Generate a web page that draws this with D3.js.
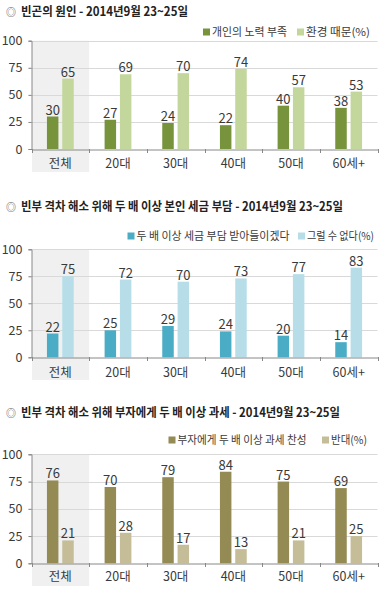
<!DOCTYPE html>
<html><head><meta charset="utf-8">
<script src="https://cdn.jsdelivr.net/npm/d3@7"></script>
<style>
html,body{margin:0;padding:0;background:#fff;}
svg{display:block;font-family:"Noto Sans CJK KR","Noto Sans",sans-serif;}
</style></head>
<body>
<svg id="c" width="385" height="591"></svg>
<script>
// ---------- data ----------
const categories = ["전체", "20대", "30대", "40대", "50대", "60세+"];
const yTicks = [0, 25, 50, 75, 100];

const title1 = "빈곤의 원인 - 2014년9월 23~25일";
const series1Names = ["개인의 노력 부족", "환경 때문(%)"];
const series1A = [30, 27, 24, 22, 40, 38];
const series1B = [65, 69, 70, 74, 57, 53];

const title2 = "빈부 격차 해소 위해 두 배 이상 본인 세금 부담 - 2014년9월 23~25일";
const series2Names = ["두 배 이상 세금 부담 받아들이겠다", "그럴 수 없다(%)"];
const series2A = [22, 25, 29, 24, 20, 14];
const series2B = [75, 72, 70, 73, 77, 83];

const title3 = "빈부 격차 해소 위해 부자에게 두 배 이상 과세 - 2014년9월 23~25일";
const series3Names = ["부자에게 두 배 이상 과세 찬성", "반대(%)"];
const series3A = [76, 70, 79, 84, 75, 69];
const series3B = [21, 28, 17, 13, 21, 25];

// ---------- layout ----------
const svg = d3.select("#c");
const axisX = 31.5, rightX = 377.5;
const textCol = "#3a3a3a";

const charts = [
  {title: title1, names: series1Names, a: series1A, b: series1B, colors: ["#77933c", "#c3d69b"],
   titleY: 12, titleW: 167, legendY: 32, legendX: [203, 297], legendW: [75, 64],
   top: 40.7, bottom: 149, grayBottom: 172, labelY: 164},
  {title: title2, names: series2Names, a: series2A, b: series2B, colors: ["#4bacc6", "#b7dee8"],
   titleY: 207, titleW: 322, legendY: 236, legendX: [127.5, 298], legendW: [153, 67],
   top: 249.3, bottom: 357.3, grayBottom: 380, labelY: 373},
  {title: title3, names: series3Names, a: series3A, b: series3B, colors: ["#948a54", "#c4bd97"],
   titleY: 413, titleW: 319, legendY: 440, legendX: [168.5, 322], legendW: [129, 36],
   top: 454.3, bottom: 563.3, grayBottom: 586, labelY: 577}
];

const x0 = d3.scaleBand().domain(categories).range([axisX, rightX]).paddingInner(0).paddingOuter(0);
const bw = x0.bandwidth();
const x1 = d3.scaleBand().domain([0, 1]).range([bw / 2 - 13.4, bw / 2 + 13.4]).paddingInner(0.25).paddingOuter(0);

charts.forEach(ch => {
  const g = svg.append("g");
  const y = d3.scaleLinear().domain([0, 100]).range([ch.bottom, ch.top]);

  // title
  g.append("text").attr("x", 6).attr("y", ch.titleY).attr("dy", "0.35em")
    .attr("font-size", 10).attr("fill", "#555").text("◎");
  g.append("text").attr("x", 21).attr("y", ch.titleY).attr("dy", "0.35em")
    .attr("font-size", 12.5).attr("font-weight", "bold").attr("fill", "#222")
    .attr("textLength", ch.titleW).attr("lengthAdjust", "spacingAndGlyphs").text(ch.title);

  // legend
  ch.names.forEach((n, i) => {
    g.append("rect").attr("x", ch.legendX[i]).attr("y", ch.legendY - 3.5).attr("width", 7).attr("height", 7)
      .attr("fill", ch.colors[i]);
    g.append("text").attr("x", ch.legendX[i] + 9).attr("y", ch.legendY).attr("dy", "0.35em")
      .attr("font-size", 11).attr("fill", textCol)
      .attr("textLength", ch.legendW[i]).attr("lengthAdjust", "spacingAndGlyphs").text(n);
  });

  // gray highlight for first category
  g.append("rect").attr("x", x0(categories[0]) + 0.5).attr("y", ch.top)
    .attr("width", bw - 0.5).attr("height", ch.grayBottom - ch.top).attr("fill", "#f0f0f0");

  // gridlines
  g.selectAll(".grid").data(yTicks.filter(t => t > 0)).join("line")
    .attr("x1", axisX - 3).attr("x2", rightX)
    .attr("y1", d => Math.round(y(d)) + 0.5).attr("y2", d => Math.round(y(d)) + 0.5)
    .attr("stroke", "#d9d9d9").attr("stroke-width", 1);

  // y axis
  const yAxis = d3.axisLeft(y).tickValues(yTicks).tickSize(3).tickPadding(6);
  const ya = g.append("g").attr("transform", `translate(${axisX},0)`).call(yAxis);
  ya.select(".domain").attr("stroke", "#888");
  ya.selectAll(".tick line").attr("stroke", "#888");
  ya.selectAll(".tick text").attr("font-size", 12.5).attr("fill", textCol)
    .attr("font-family", "\"Noto Sans CJK KR\",sans-serif");

  // bars
  const rows = categories.map((c, i) => ({c, vals: [ch.a[i], ch.b[i]]}));
  const grp = g.selectAll(".cat").data(rows).join("g").attr("transform", d => `translate(${x0(d.c)},0)`);
  grp.selectAll("rect").data(d => d.vals.map((v, k) => ({v, k}))).join("rect")
    .attr("x", d => x1(d.k)).attr("width", x1.bandwidth())
    .attr("y", d => y(d.v)).attr("height", d => y(0) - y(d.v))
    .attr("fill", d => ch.colors[d.k]);
  grp.selectAll("text").data(d => d.vals.map((v, k) => ({v, k}))).join("text")
    .attr("x", d => x1(d.k) + x1.bandwidth() / 2).attr("y", d => y(d.v) - 2)
    .attr("text-anchor", "middle").attr("font-size", 13).attr("fill", textCol).text(d => d.v);

  // x axis
  const xAxis = d3.axisBottom(x0).tickSize(0).tickPadding(0).tickFormat("");
  const xa = g.append("g").attr("transform", `translate(0,${Math.round(y(0)) + 0.5})`).call(xAxis);
  xa.select(".domain").attr("stroke", "#888");
  const bounds = categories.map(c => x0(c)).concat([rightX]);
  g.selectAll(".xt").data(bounds).join("line")
    .attr("x1", d => Math.round(d) + 0.5).attr("x2", d => Math.round(d) + 0.5)
    .attr("y1", Math.round(y(0))).attr("y2", Math.round(y(0)) + 4)
    .attr("stroke", "#888");
  g.selectAll(".xl").data(categories).join("text")
    .attr("x", d => x0(d) + bw / 2).attr("y", ch.labelY).attr("dy", "0.35em")
    .attr("text-anchor", "middle").attr("font-size", 12.5).attr("fill", textCol).text(d => d);
});
</script>
</body></html>
